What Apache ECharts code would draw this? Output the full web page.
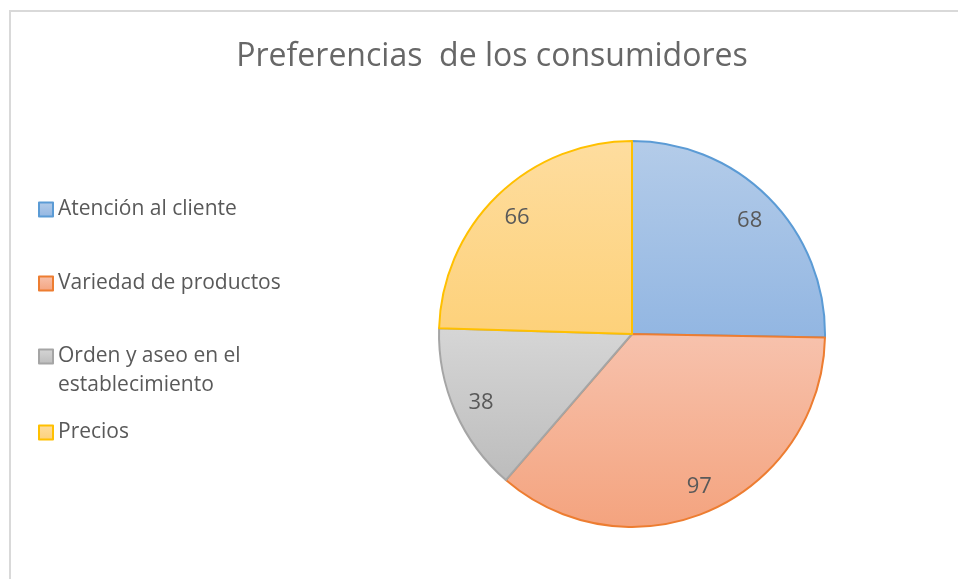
<!DOCTYPE html>
<html lang="es">
<head>
    <meta charset="UTF-8">
    <title>Preferencias de los consumidores</title>
    <script src="https://cdn.jsdelivr.net/npm/echarts@6/dist/echarts.min.js"></script>
    <style>
        html, body, #chart {
            width: 958px;
            height: 579px;
            padding: 0;
            margin: 0;
            background: #fff;
        }
    </style>
</head>
<body>
<div id="chart"></div>
<script>
    var categories = ["Atención al cliente", "Variedad de productos", "Orden y aseo en el establecimiento", "Precios"];
    var values = [68, 97, 38, 66];
    // borde, color arriba, color abajo
    var borderColors = ["#5b9bd5", "#ed7d31", "#a5a5a5", "#ffc000"];
    var topColors = ["#b4cce9", "#f7c2ad", "#d6d6d6", "#fedd9f"];
    var bottomColors = ["#92b6e2", "#f4a37e", "#bcbcbc", "#fdd17a"];
    var legendTops = [190, 264, 308, 413];
    var legendLabels = ["Atención al cliente", "Variedad de productos", " \nOrden y aseo en el\nestablecimiento", "Precios"];

    var font = "Open Sans";
    var textColor = "#595959";

    var chart = echarts.init(document.getElementById("chart"));

    var pieData = categories.map(function (name, i) {
        return {
            name: name,
            value: values[i],
            itemStyle: {
                color: new echarts.graphic.LinearGradient(0, 0, 0, 1, [
                    {offset: 0, color: topColors[i]},
                    {offset: 1, color: bottomColors[i]}
                ]),
                borderColor: borderColors[i],
                borderWidth: 2
            }
        };
    });

    var legends = categories.map(function (name, i) {
        return {
            data: [{name: name, icon: "rect"}],
            orient: "vertical",
            left: 33,
            top: legendTops[i],
            itemWidth: 14,
            itemHeight: 14,
            itemGap: 0,
            selectedMode: false,
            formatter: function () {
                return legendLabels[i];
            },
            textStyle: {
                fontFamily: font,
                fontSize: 21,
                lineHeight: 29,
                color: textColor
            }
        };
    });

    chart.setOption({
        animation: false,
        backgroundColor: "#fff",
        title: {
            text: "Preferencias  de los consumidores",
            left: 487,
            textAlign: "center",
            top: 36,
            textStyle: {
                fontFamily: font,
                fontSize: 32,
                fontWeight: "normal",
                color: "#676767"
            }
        },
        legend: legends,
        graphic: [{
            type: "rect",
            shape: {x: 10, y: 11, width: 1200, height: 1200},
            style: {fill: null, stroke: "#d9d9d9", lineWidth: 2},
            silent: true,
            z: -1
        }],
        series: [{
            type: "pie",
            center: [632, 334],
            radius: [0, 193],
            startAngle: 90,
            clockwise: true,
            data: pieData,
            label: {show: false},
            labelLine: {show: false},
            emphasis: {disabled: true}
        }, {
            // capa transparente para colocar las etiquetas de valores
            type: "pie",
            center: [632, 336],
            radius: [131, 193],
            startAngle: 90,
            clockwise: true,
            silent: true,
            data: categories.map(function (name, i) {
                return {name: name, value: values[i]};
            }),
            itemStyle: {color: "rgba(0,0,0,0)", borderWidth: 0},
            label: {
                show: true,
                position: "inside",
                formatter: "{c}",
                fontFamily: font,
                fontSize: 22,
                color: textColor
            },
            labelLine: {show: false},
            emphasis: {disabled: true}
        }]
    });
</script>
</body>
</html>
